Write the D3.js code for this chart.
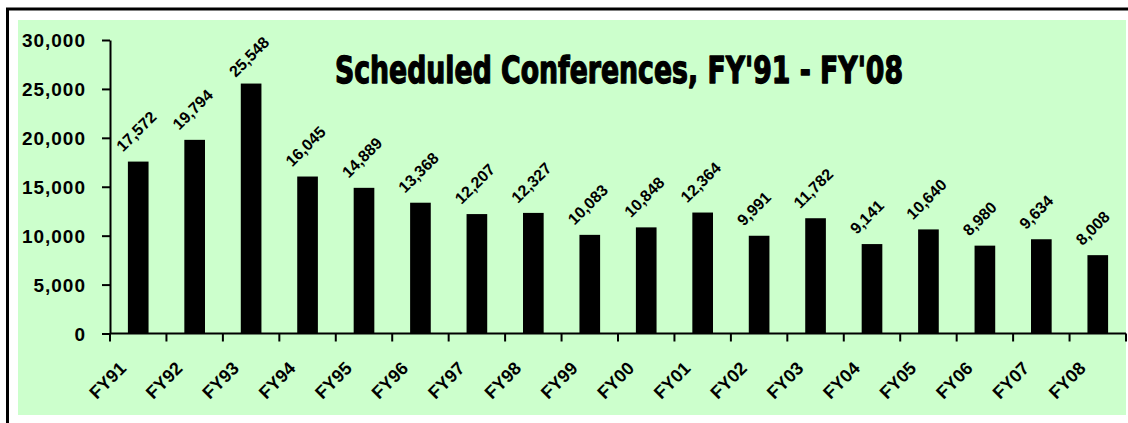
<!DOCTYPE html>
<html>
<head>
<meta charset="utf-8">
<script src="https://cdn.jsdelivr.net/npm/d3@7"></script>
<style>
  body { margin: 0; background: #fff; }
  svg { display: block; }
  text { font-family: "Liberation Sans", Arial, sans-serif; font-weight: bold; fill: #000; }
</style>
</head>
<body>
<div id="chart"></div>
<script>
const width = 1128,
    height = 423;

// data
const years = ["FY91", "FY92", "FY93", "FY94", "FY95", "FY96", "FY97", "FY98", "FY99",
    "FY00", "FY01", "FY02", "FY03", "FY04", "FY05", "FY06", "FY07", "FY08"];
const conferences = [17572, 19794, 25548, 16045, 14889, 13368, 12207, 12327, 10083,
    10848, 12364, 9991, 11782, 9141, 10640, 8980, 9634, 8008];
const yTicks = [0, 5000, 10000, 15000, 20000, 25000, 30000];

const title = "Scheduled Conferences, FY'91 - FY'08";

const plot = { left: 110, right: 1126, top: 40, bottom: 333.5 };

const svg = d3.select("#chart")
    .append("svg")
    .attr("width", width)
    .attr("height", height);

// outer frame (runs off the right and bottom of the window)
svg.append("rect")
    .attr("x", 7.5).attr("y", 9)
    .attr("width", 1140).attr("height", 430)
    .attr("fill", "#fff")
    .attr("stroke", "#000")
    .attr("stroke-width", 3);

svg.append("rect")
    .attr("x", 18).attr("y", 20)
    .attr("width", 1108).attr("height", 395)
    .attr("fill", "#ccffcc");

const x = d3.scaleBand()
    .domain(years)
    .range([plot.left, plot.right])
    .padding(0);

const y = d3.scaleLinear()
    .domain([0, 30000])
    .range([plot.bottom, plot.top]);

const barWidth = x.bandwidth() * 0.366;
const fmt = d3.format(",");

// bars
svg.selectAll(null)
    .data(years)
    .join("rect")
    .attr("x", function(d) { return x(d) + (x.bandwidth() - barWidth) / 2 })
    .attr("y", function(d, i) { return y(conferences[i]) })
    .attr("width", barWidth)
    .attr("height", function(d, i) { return y(0) - y(conferences[i]) })
    .attr("fill", "#000");

// y axis
const yAxis = svg.append("g")
    .attr("transform", `translate(${plot.left},0)`)
    .call(d3.axisLeft(y).tickValues(yTicks).tickFormat(fmt).tickSizeOuter(0).tickSizeInner(8).tickPadding(16));

yAxis.selectAll("text")
    .style("font-size", "19px")
    .style("letter-spacing", "1px")
    .attr("dy", "0.36em");

yAxis.select(".domain").attr("stroke-width", 2);
yAxis.selectAll(".tick line").attr("stroke-width", 2);

// x axis, ticks sit between the bars
const xAxis = svg.append("g")
    .attr("transform", `translate(0,${plot.bottom})`);

xAxis.append("line")
    .attr("x1", plot.left).attr("x2", plot.right)
    .attr("stroke", "#000").attr("stroke-width", 2);

xAxis.selectAll(null)
    .data(years.concat(["end"]))
    .join("line")
    .attr("x1", function(d, i) { return plot.left + i * x.step() })
    .attr("x2", function(d, i) { return plot.left + i * x.step() })
    .attr("y1", 0).attr("y2", 8)
    .attr("stroke", "#000").attr("stroke-width", 2);

xAxis.selectAll(null)
    .data(years)
    .join("text")
    .attr("transform", function(d) {
        return `translate(${x(d) + x.bandwidth() / 2 - 11},36) rotate(-45)`
    })
    .attr("text-anchor", "end")
    .style("font-size", "18px")
    .text(function(d) { return d });

// value labels above each bar, kept below the title line at the top
svg.selectAll(null)
    .data(years)
    .join("text")
    .attr("transform", function(d, i) {
        const lx = x(d) + (x.bandwidth() - barWidth) / 2 - 5;
        const ly = Math.max(y(conferences[i]) - 9, 78);
        return `translate(${lx},${ly}) rotate(-45)`
    })
    .attr("text-anchor", "start")
    .style("font-size", "16px")
    .text(function(d, i) { return fmt(conferences[i]) });

// title
svg.append("text")
    .attr("x", 335)
    .attr("y", 82.5)
    .attr("textLength", 568)
    .attr("lengthAdjust", "spacingAndGlyphs")
    .style("font-family", "'Liberation Sans Narrow', 'DejaVu Sans Condensed', sans-serif")
    .style("font-size", "38px")
    .style("stroke", "#000")
    .style("stroke-width", "1.3px")
    .style("stroke-linejoin", "round")
    .text(title);
</script>
</body>
</html>
